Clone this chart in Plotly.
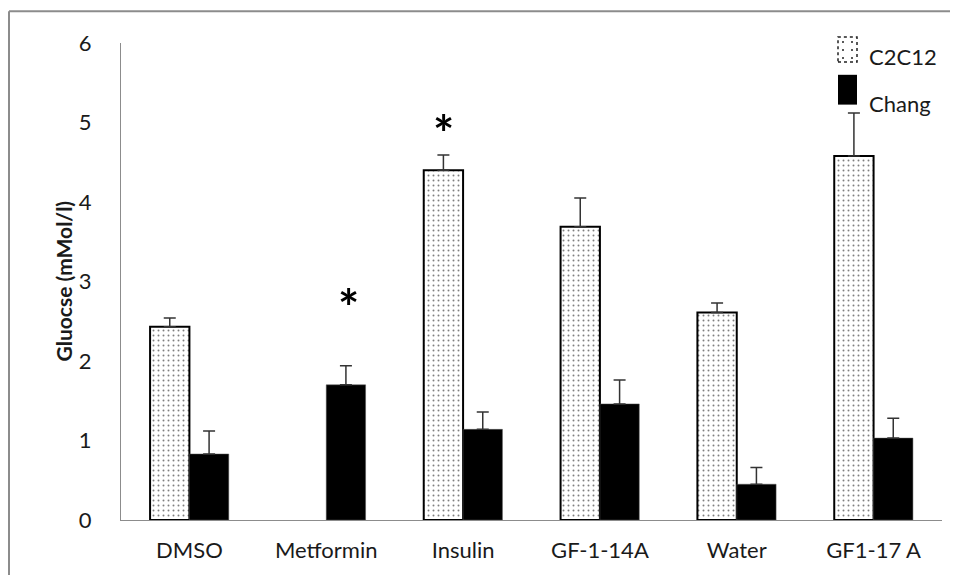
import plotly.graph_objects as go

categories = ["DMSO", "Metformin", "Insulin", "GF-1-14A", "Water", "GF1-17 A"]
c2c12_values = [2.43, None, 4.40, 3.69, 2.61, 4.58]
c2c12_err = [0.11, None, 0.19, 0.36, 0.12, 0.54]
chang_values = [0.83, 1.70, 1.14, 1.46, 0.45, 1.03]
chang_err = [0.29, 0.24, 0.22, 0.30, 0.21, 0.25]
y_ticks = [0, 1, 2, 3, 4, 5, 6]
# significance markers: (category, series, y position)
sig_marks = [("Metformin", "Chang", 2.80), ("Insulin", "C2C12", 4.99)]

# page is offset by the 8px body margin; keep the page free of scrollbars
OFF = 8
W, H = 958 - OFF, 583 - 2 * OFF
ML, MR, MT, MB = 121 - OFF, 16, 43 - OFF, 52
PW, PH = W - ML - MR, H - MT - MB


def px(x):
    return (x - OFF - ML) / PW


def py(y):
    return (H - MB - (y - OFF)) / PH


FONT = "Lato"
TXT = "#1a1a1a"

fig = go.Figure()
fig.add_trace(go.Bar(
    name="C2C12", x=categories, y=c2c12_values,
    marker=dict(color="white", line=dict(color="black", width=2),
                pattern=dict(shape=".", fgcolor="black", bgcolor="white", size=5, solidity=0.12)),
    error_y=dict(type="data", array=c2c12_err, arrayminus=[0] * 6, symmetric=False,
                 color="#333333", thickness=1.5, width=6),
    showlegend=False,
))
fig.add_trace(go.Bar(
    name="Chang", x=categories, y=chang_values,
    marker=dict(color="black", line=dict(color="#555555", width=0.5)),
    error_y=dict(type="data", array=chang_err, arrayminus=[0] * 6, symmetric=False,
                 color="#333333", thickness=1.5, width=6),
    showlegend=False,
))

for cat, series, yv in sig_marks:
    fig.add_annotation(x=cat, y=yv, xref="x", yref="y", text="<b>*</b>", showarrow=False,
                       xshift=(-20 if series == "C2C12" else 22), yshift=-10,
                       font=dict(family=FONT, size=50, color="black"))

# y-axis title
fig.add_annotation(x=px(63), y=0.5, xref="paper", yref="paper", text="<b>Gluocse (mMol/l)</b>",
                   textangle=-90, showarrow=False, xanchor="center", yanchor="middle",
                   font=dict(family=FONT, size=21, color=TXT))

shapes = []
# outer frame: left and top edges only (the others lie outside the picture)
shapes.append(dict(type="line", xref="paper", yref="paper", x0=px(9), x1=px(9), y0=py(600), y1=py(11),
                   line=dict(color="#8c8c8c", width=2), layer="below"))
shapes.append(dict(type="line", xref="paper", yref="paper", x0=px(9), x1=px(980), y0=py(11), y1=py(11),
                   line=dict(color="#8c8c8c", width=2), layer="below"))
# legend swatches
shapes.append(dict(type="rect", xref="paper", yref="paper", x0=px(838), x1=px(857), y0=py(62), y1=py(37),
                   line=dict(color="#222222", width=1.5, dash="dot"), fillcolor="white"))
for dx in (843, 852):
    for dy in (42, 50, 58):
        shapes.append(dict(type="circle", xref="paper", yref="paper", x0=px(dx - 1), x1=px(dx + 1),
                           y0=py(dy + 1), y1=py(dy - 1), line=dict(width=0), fillcolor="#222222"))
shapes.append(dict(type="rect", xref="paper", yref="paper", x0=px(838), x1=px(857), y0=py(105), y1=py(75),
                   line=dict(width=0), fillcolor="black"))

fig.add_annotation(x=px(867), y=py(57), xref="paper", yref="paper", text="C2C12", showarrow=False,
                   xanchor="left", yanchor="middle", font=dict(family=FONT, size=22, color=TXT))
fig.add_annotation(x=px(867), y=py(104), xref="paper", yref="paper", text="Chang", showarrow=False,
                   xanchor="left", yanchor="middle", font=dict(family=FONT, size=22, color=TXT))

fig.update_layout(
    width=W, height=H,
    margin=dict(l=ML, r=MR, t=MT, b=MB),
    paper_bgcolor="white", plot_bgcolor="white",
    barmode="group", bargap=0.425, bargroupgap=0,
    shapes=shapes,
    font=dict(family=FONT, size=21, color=TXT),
)
fig.update_xaxes(showline=True, linecolor="#8c8c8c", linewidth=1.2, showgrid=False,
                 ticks="outside", ticklen=0, tickcolor="rgba(0,0,0,0)", ticklabelstandoff=10,
                 tickfont=dict(family=FONT, size=22, color=TXT))
fig.update_yaxes(range=[0, 6], tickvals=y_ticks, showline=True, linecolor="#8c8c8c", linewidth=1.2,
                 showgrid=False, zeroline=False, ticks="", ticklabelstandoff=24,
                 tickfont=dict(family=FONT, size=22, color=TXT))

fig.write_html("out.html")
